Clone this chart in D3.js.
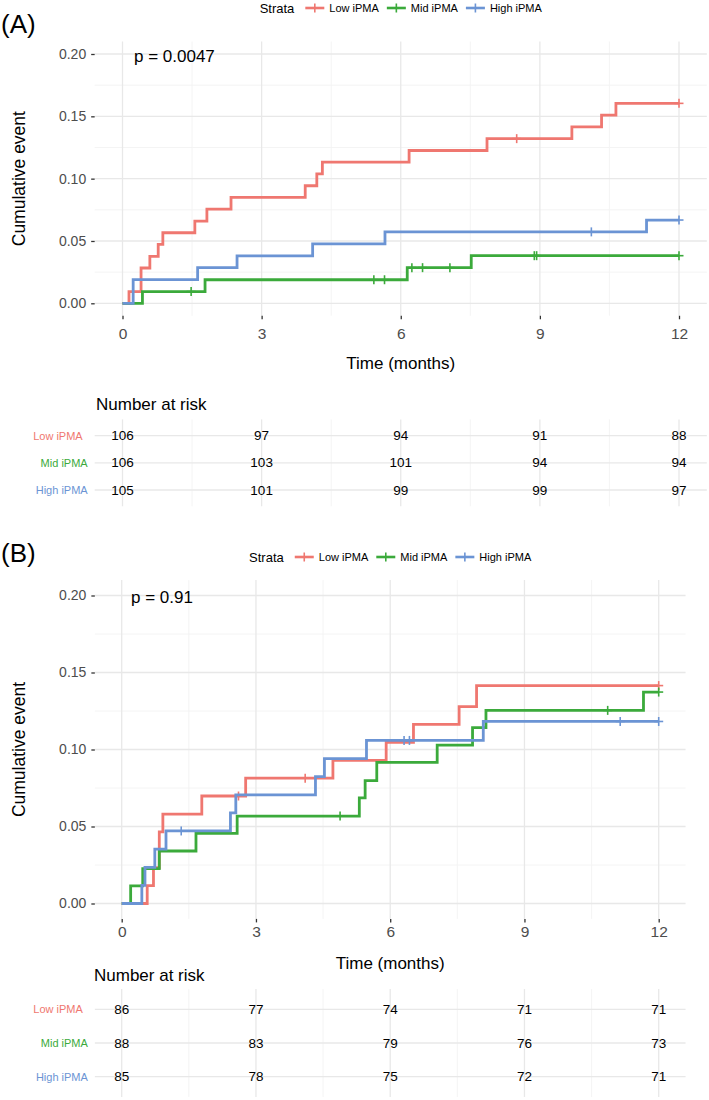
<!DOCTYPE html>
<html><head><meta charset="utf-8">
<script src="https://cdn.jsdelivr.net/npm/d3@7"></script>
<style>
body{margin:0;background:#fff}
svg{display:block}
text{font-family:"Liberation Sans",Arial,sans-serif}
</style>
</head><body>
<svg id="c" width="709" height="1100"></svg>
<script>
// ---------- data ----------
const strata = ["Low iPMA", "Mid iPMA", "High iPMA"];
const timeTicks = [0, 3, 6, 9, 12];
const timeMinorTicks = [1.5, 4.5, 7.5, 10.5];
const yTicks = [0, 0.05, 0.10, 0.15, 0.20];
const yMinorTicks = [0.025, 0.075, 0.125, 0.175];
const xTitle = "Time (months)";
const yTitle = "Cumulative event";
const legendTitle = "Strata";
const riskTitle = "Number at risk";

// Panel A
const pValueA = "p = 0.0047";
const aLowSteps = [[0,0],[0.14,0.0094],[0.40,0.0283],[0.59,0.0377],[0.77,0.0472],[0.87,0.0566],[1.56,0.0660],[1.82,0.0755],[2.34,0.0849],[3.94,0.0943],[4.19,0.1038],[4.31,0.1132],[6.18,0.1226],[7.86,0.1321],[9.69,0.1415],[10.33,0.1509],[10.64,0.1604]];
const aLowCensor = [8.50, 12];
const aMidSteps = [[0,0],[0.43,0.0094],[1.78,0.0189],[6.14,0.0286],[7.52,0.0382]];
const aMidCensor = [1.48, 5.42, 5.65, 6.24, 6.47, 7.06, 8.88, 8.93, 12];
const aHighSteps = [[0,0],[0.23,0.0190],[1.62,0.0286],[2.47,0.0381],[4.10,0.0477],[5.66,0.0573],[11.30,0.0668]];
const aHighCensor = [10.11, 12];
const aRiskLow = [106, 97, 94, 91, 88];
const aRiskMid = [106, 103, 101, 94, 94];
const aRiskHigh = [105, 101, 99, 99, 97];

// Panel B
const pValueB = "p = 0.91";
const bLowSteps = [[0,0],[0.57,0.0116],[0.71,0.0233],[0.84,0.0465],[0.92,0.0581],[1.79,0.0698],[2.77,0.0814],[4.72,0.0930],[5.91,0.1047],[6.52,0.1163],[7.54,0.1279],[7.93,0.1415]];
const bLowCensor = [2.61, 4.10, 12];
const bMidSteps = [[0,0],[0.20,0.0114],[0.47,0.0227],[0.84,0.0341],[1.66,0.0455],[2.58,0.0568],[5.31,0.0686],[5.44,0.0798],[5.70,0.0916],[7.05,0.1028],[7.84,0.1142],[8.14,0.1254],[11.66,0.1373]];
const bMidCensor = [4.88, 10.86, 12];
const bHighSteps = [[0,0],[0.45,0.0118],[0.52,0.0235],[0.74,0.0353],[0.99,0.0471],[2.43,0.0588],[2.55,0.0706],[4.33,0.0824],[4.53,0.0941],[5.47,0.1059],[8.08,0.1182]];
const bHighCensor = [1.33, 6.31, 6.43, 11.14, 12];
const bRiskLow = [86, 77, 74, 71, 71];
const bRiskMid = [88, 83, 79, 76, 73];
const bRiskHigh = [85, 78, 75, 72, 71];

// ---------- style ----------
const colors = ["#EF7770", "#3BAA3B", "#6B94D4"];
const gridMajor = "#e8e8e8", gridMinor = "#f3f3f3";
const tickTextColor = "#4d4d4d";

const svg = d3.select("#c");

function drawPanel(o) {
  const g = svg.append("g");
  const x = d3.scaleLinear().domain([0, 12]).range(o.xr);
  const y = d3.scaleLinear().domain([0, 0.2]).range(o.yr);
  const pl = x(-0.6), pr = x(12.6), pt = y(0.21), pb = y(-0.01);

  // panel label
  g.append("text").attr("x", 1).attr("y", o.labelBase).attr("font-size", 26).attr("fill", "#000").text(o.label);

  // legend
  const lg = g.append("g");
  const lt = lg.append("text").attr("font-size", 13).attr("fill", "#000").attr("dominant-baseline", "central").attr("y", o.legendY).text(legendTitle);
  let cx = lt.node().getComputedTextLength() + 11;
  strata.forEach((s, i) => {
    lg.append("line").attr("x1", cx).attr("x2", cx + 19).attr("y1", o.legendY).attr("y2", o.legendY)
      .attr("stroke", colors[i]).attr("stroke-width", 2.6);
    lg.append("line").attr("x1", cx + 9.5).attr("x2", cx + 9.5).attr("y1", o.legendY - 4.5).attr("y2", o.legendY + 4.5)
      .attr("stroke", colors[i]).attr("stroke-width", 1.6);
    const t = lg.append("text").attr("x", cx + 24).attr("y", o.legendY).attr("font-size", 11)
      .attr("dominant-baseline", "central").attr("fill", "#000").text(s);
    cx += 24 + t.node().getComputedTextLength() + 8;
  });
  const lw = cx - 8;
  lg.attr("transform", `translate(${(pl + pr) / 2 - lw / 2},0)`);

  // grid
  const grid = g.append("g");
  yMinorTicks.forEach(v => grid.append("line").attr("x1", pl).attr("x2", pr).attr("y1", y(v)).attr("y2", y(v)).attr("stroke", gridMinor).attr("stroke-width", 0.9));
  timeMinorTicks.forEach(v => grid.append("line").attr("x1", x(v)).attr("x2", x(v)).attr("y1", pt).attr("y2", pb).attr("stroke", gridMinor).attr("stroke-width", 0.9));
  yTicks.forEach(v => grid.append("line").attr("x1", pl).attr("x2", pr).attr("y1", y(v)).attr("y2", y(v)).attr("stroke", gridMajor).attr("stroke-width", 1.3));
  timeTicks.forEach(v => grid.append("line").attr("x1", x(v)).attr("x2", x(v)).attr("y1", pt).attr("y2", pb).attr("stroke", gridMajor).attr("stroke-width", 1.3));

  // axes
  const ya = g.append("g").attr("transform", `translate(${pl},0)`)
    .call(d3.axisLeft(y).tickValues(yTicks).tickFormat(d3.format(".2f")).tickSize(3.5).tickPadding(5));
  ya.select(".domain").remove();
  ya.selectAll("line").attr("stroke", "#333").attr("stroke-width", 1.3);
  ya.selectAll("text").attr("font-size", 14).attr("fill", tickTextColor).attr("font-family", null);

  const xa = g.append("g").attr("transform", `translate(0,${pb})`)
    .call(d3.axisBottom(x).tickValues(timeTicks).tickFormat(d3.format("d")).tickSize(3.5).tickPadding(5));
  xa.select(".domain").remove();
  xa.selectAll("line").attr("stroke", "#333").attr("stroke-width", 1.3);
  xa.selectAll("text").attr("font-size", 15.5).attr("fill", tickTextColor).attr("font-family", null)
    .attr("dy", null).attr("y", o.xTickY - pb).attr("dominant-baseline", "central");

  g.append("text").attr("x", (pl + pr) / 2).attr("y", o.xTitleY).attr("text-anchor", "middle")
    .attr("dominant-baseline", "central").attr("font-size", 17).attr("fill", "#000").text(xTitle);
  g.append("text").attr("transform", `translate(19,${(pt + pb) / 2}) rotate(-90)`).attr("text-anchor", "middle")
    .attr("dominant-baseline", "central").attr("font-size", 17.5).attr("fill", "#000").text(yTitle);

  // curves
  const line = d3.line().x(d => x(d[0])).y(d => y(d[1])).curve(d3.curveStepAfter);
  const bis = d3.bisector(d => d[0]).right;
  o.series.forEach((steps, i) => {
    const pts = steps.concat([[12, steps[steps.length - 1][1]]]);
    g.append("path").attr("d", line(pts)).attr("fill", "none").attr("stroke", colors[i]).attr("stroke-width", 2.8);
    o.censors[i].forEach(t => {
      const v = steps[bis(steps, t) - 1][1];
      g.append("line").attr("x1", x(t)).attr("x2", x(t)).attr("y1", y(v) - 4.5).attr("y2", y(v) + 4.5)
        .attr("stroke", colors[i]).attr("stroke-width", 1.6);
      g.append("line").attr("x1", x(t) - 4.5).attr("x2", x(t) + 4.5).attr("y1", y(v)).attr("y2", y(v))
        .attr("stroke", colors[i]).attr("stroke-width", 1.6);
    });
  });

  // p-value
  g.append("text").attr("x", o.pX).attr("y", o.pBase).attr("font-size", 17).attr("fill", "#000").text(o.pval);

  // risk table
  const ry = d3.scalePoint().domain(strata).range(o.riskRows);
  const step = ry.step();
  const rt = o.riskRows[0] - 0.6 * step, rb = o.riskRows[1] + 0.6 * step;
  g.append("text").attr("x", o.narX).attr("y", o.narY).attr("font-size", 17).attr("dominant-baseline", "central")
    .attr("fill", "#000").text(riskTitle);
  const rg = g.append("g");
  timeMinorTicks.forEach(v => rg.append("line").attr("x1", x(v)).attr("x2", x(v)).attr("y1", rt).attr("y2", rb).attr("stroke", gridMinor).attr("stroke-width", 0.9));
  timeTicks.forEach(v => rg.append("line").attr("x1", x(v)).attr("x2", x(v)).attr("y1", rt).attr("y2", rb).attr("stroke", gridMajor).attr("stroke-width", 1.3));
  strata.forEach(s => rg.append("line").attr("x1", pl).attr("x2", pr).attr("y1", ry(s)).attr("y2", ry(s)).attr("stroke", gridMajor).attr("stroke-width", 1.3));
  const ra = g.append("g").attr("transform", `translate(${pl},0)`).call(d3.axisLeft(ry).tickSize(0).tickPadding(7));
  ra.select(".domain").remove();
  ra.selectAll("text").attr("font-size", 11).attr("font-family", null)
    .attr("fill", (d, i) => colors[i]).attr("dx", d => d === strata[0] ? -5 : 0);
  o.risk.forEach((arr, i) => {
    arr.forEach((n, j) => {
      g.append("text").attr("x", x(timeTicks[j])).attr("y", ry(strata[i])).attr("text-anchor", "middle")
        .attr("dominant-baseline", "central").attr("font-size", 13.5).attr("fill", "#000").text(n);
    });
  });
}

drawPanel({
  label: "(A)", labelBase: 33, legendY: 8,
  xr: [122.5, 679], yr: [303.3, 54],
  series: [aLowSteps, aMidSteps, aHighSteps],
  censors: [aLowCensor, aMidCensor, aHighCensor],
  pval: pValueA, pX: 134, pBase: 61.5,
  xTickY: 334, xTitleY: 363,
  narX: 96, narY: 404,
  riskRows: [435.7, 490],
  risk: [aRiskLow, aRiskMid, aRiskHigh]
});
drawPanel({
  label: "(B)", labelBase: 562, legendY: 557,
  xr: [121.7, 658.7], yr: [903.5, 595.5],
  series: [bLowSteps, bMidSteps, bHighSteps],
  censors: [bLowCensor, bMidCensor, bHighCensor],
  pval: pValueB, pX: 131, pBase: 602.5,
  xTickY: 932, xTitleY: 963.6,
  narX: 94, narY: 975,
  riskRows: [1009.3, 1076.7],
  risk: [bRiskLow, bRiskMid, bRiskHigh]
});
</script>
</body></html>
